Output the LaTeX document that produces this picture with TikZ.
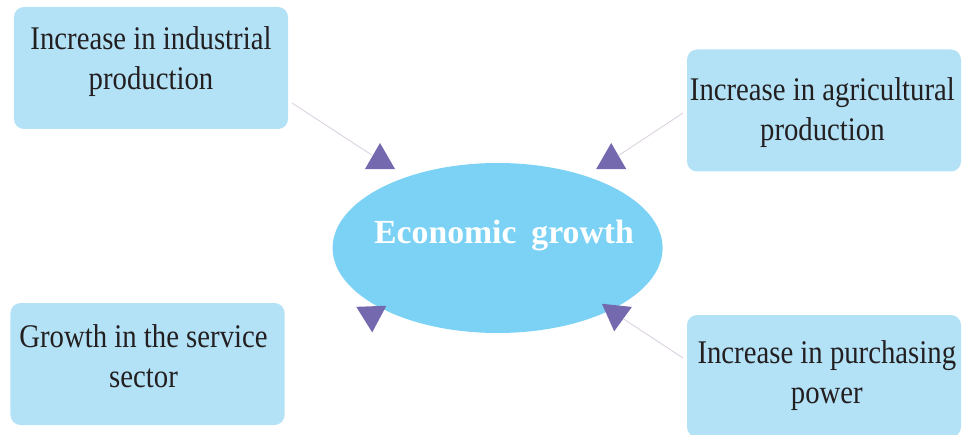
\documentclass[tikz,border=0pt]{standalone}
\usepackage{fontspec}
\setmainfont{Liberation Serif}[FakeStretch=0.87]
\newfontfamily\hubfont{Liberation Serif}
\usetikzlibrary{shapes.geometric}
\definecolor{boxblue}{RGB}{179,226,247}
\definecolor{hubblue}{RGB}{123,210,244}
\definecolor{markpurple}{RGB}{116,104,174}
\definecolor{linkgray}{RGB}{218,208,222}
\definecolor{inkgray}{RGB}{35,31,32}

\begin{document}
\begin{tikzpicture}[
	box/.style={rectangle, rounded corners=0.25cm, fill=boxblue, minimum width=6.85cm, minimum height=3.05cm},
	boxtext/.style={align=center, text=inkgray, inner sep=0, font=\fontsize{23.5}{28.5}\selectfont},
	hub/.style={ellipse, fill=hubblue, minimum width=8.25cm, minimum height=4.25cm},
	hubtext/.style={text=white, inner sep=0, font=\hubfont\bfseries\fontsize{24}{28}\selectfont},
	tri/.style={regular polygon, regular polygon sides=3, fill=markpurple, minimum size=0.87cm, inner sep=0},
	link/.style={draw=linkgray, line width=0.6pt}
]
\clip (0,0) rectangle (24.2,10.85);

\node[hub](g) at(12.44,4.65) {};
\node[hubtext](gt) at([shift={(0.16,0.3)}]g) {Economic\hspace{0.37cm}growth};

\foreach \n/\x/\y/\dx/\dy/\t in {
a/3.775/9.15/0/0.15/{Increase in industrial\\production}%
,b/20.6/8.0875/-0.04/-0.04/{Increase in agricultural\\production}%
,c/3.6875/1.75/-0.1/0.19/{Growth in the service\\sector}%
,d/20.6/1.45/0.07/0/{Increase in purchasing\\power}%
}{
	\node[box](\n) at(\x,\y) {};
	\node[boxtext](\n t) at([shift={(\dx,\dy)}]\n) {\t};
}

\foreach [count=\i] \x\y\r in {9.5/6.84/0,15.28/6.84/0,9.29/2.975/182,15.4/3.0/174}{
	\node[tri, rotate=\r](t\i) at(\x,\y) {};
}

\coordinate(pa) at(7.3,8.275);
\coordinate(pb) at(17.075,8.025);
\coordinate(pd) at(17.075,1.9);

\foreach \u \v in {
pa/t1%
,pb/t2%
,pd/t4%
}{
	\draw[link] (\u) -- (\v);
}

\end{tikzpicture}
\end{document}
